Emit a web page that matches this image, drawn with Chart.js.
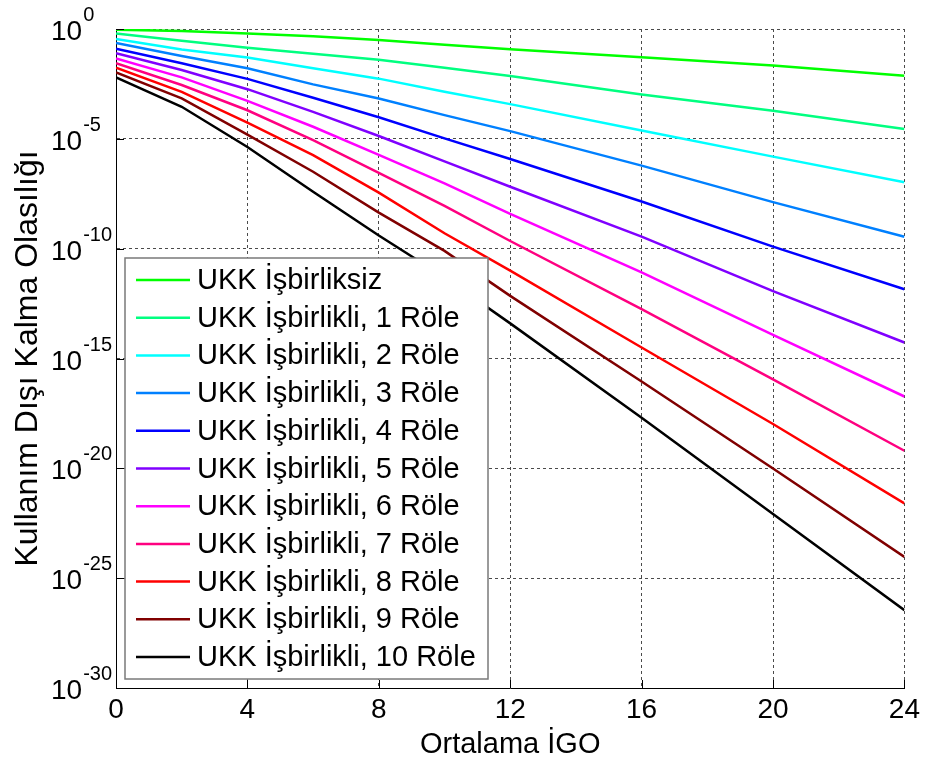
<!DOCTYPE html>
<html>
<head>
<meta charset="utf-8">
<script src="https://cdn.jsdelivr.net/npm/chart.js@4.4.1/dist/chart.umd.min.js"></script>
<style>
  html, body { margin: 0; padding: 0; background: #fff; }
  #wrap { width: 925px; height: 762px; }
</style>
</head>
<body>
<div id="wrap"><canvas id="chart" width="925" height="762"></canvas></div>
<script>
// average SNR (dB) at which each curve was sampled
const igo = [0, 2, 4, 6, 8, 10, 12, 16, 20, 24];

// outage probability, stored as log10 values
const nonCoop = [-0.03, -0.09, -0.20, -0.33, -0.50, -0.72, -0.92, -1.29, -1.66, -2.13];
const relay1  = [-0.20, -0.53, -0.85, -1.13, -1.40, -1.76, -2.14, -2.98, -3.72, -4.55];
const relay2  = [-0.46, -0.93, -1.30, -1.79, -2.26, -2.86, -3.42, -4.62, -5.81, -6.98];
const relay3  = [-0.64, -1.23, -1.79, -2.52, -3.16, -3.92, -4.65, -6.22, -7.88, -9.46];
const relay4  = [-0.90, -1.56, -2.27, -3.13, -4.02, -4.98, -5.92, -7.85, -9.91, -11.85];
const relay5  = [-1.10, -1.87, -2.74, -3.77, -4.87, -6.03, -7.18, -9.45, -11.93, -14.27];
const relay6  = [-1.34, -2.20, -3.27, -4.45, -5.73, -7.03, -8.42, -11.08, -13.92, -16.73];
const relay7  = [-1.56, -2.55, -3.70, -5.06, -6.55, -8.05, -9.65, -12.75, -15.95, -19.20];
const relay8  = [-1.76, -2.86, -4.26, -5.74, -7.45, -9.30, -11.00, -14.50, -17.98, -21.60];
const relay9  = [-1.98, -3.16, -4.81, -6.50, -8.36, -10.10, -12.15, -16.05, -20.01, -24.03];
const relay10 = [-2.20, -3.54, -5.37, -7.41, -9.40, -11.30, -13.40, -17.70, -22.08, -26.46];

const labels = [
  'UKK İşbirliksiz',
  'UKK İşbirlikli, 1 Röle',
  'UKK İşbirlikli, 2 Röle',
  'UKK İşbirlikli, 3 Röle',
  'UKK İşbirlikli, 4 Röle',
  'UKK İşbirlikli, 5 Röle',
  'UKK İşbirlikli, 6 Röle',
  'UKK İşbirlikli, 7 Röle',
  'UKK İşbirlikli, 8 Röle',
  'UKK İşbirlikli, 9 Röle',
  'UKK İşbirlikli, 10 Röle',
];
const colors = [
  '#00ff00', '#00ff80', '#00ffff', '#0080ff', '#0000ff', '#8000ff',
  '#ff00ff', '#ff0080', '#ff0000', '#800000', '#000000',
];
const series = [nonCoop, relay1, relay2, relay3, relay4, relay5,
                relay6, relay7, relay8, relay9, relay10];

const xTicks = [0, 4, 8, 12, 16, 20, 24];
const yExps = [0, -5, -10, -15, -20, -25, -30];

const FONT = '"Liberation Sans", Arial, sans-serif';

const datasets = series.map((s, i) => ({
  label: labels[i],
  data: igo.map((x, j) => ({ x: x, y: Math.pow(10, s[j]) })),
  borderColor: colors[i],
  backgroundColor: colors[i],
  borderWidth: 2.5,
  pointRadius: 0,
  tension: 0,
  fill: false,
  order: series.length - i,
}));

// y labels as 10 with a raised exponent, y title, inward ticks, boxed legend
const decorations = {
  id: 'decorations',
  afterDraw(chart) {
    const ctx = chart.ctx;
    const area = chart.chartArea;
    const xs = chart.scales.x;
    const ys = chart.scales.y;

    ctx.save();
    ctx.strokeStyle = '#000';
    ctx.lineWidth = 1;
    xTicks.forEach(v => {
      const px = Math.round(xs.getPixelForValue(v)) + 0.5;
      ctx.beginPath();
      ctx.moveTo(px, area.bottom);
      ctx.lineTo(px, area.bottom - 8);
      ctx.stroke();
    });
    yExps.forEach(e => {
      const py = Math.round(ys.getPixelForValue(Math.pow(10, e))) + 0.5;
      ctx.beginPath();
      ctx.moveTo(area.left, py);
      ctx.lineTo(area.left + 8, py);
      ctx.stroke();
    });

    ctx.fillStyle = '#000';
    ctx.textAlign = 'left';
    ctx.textBaseline = 'alphabetic';
    yExps.forEach(e => {
      const py = ys.getPixelForValue(Math.pow(10, e));
      ctx.font = '28px ' + FONT;
      ctx.fillText('10', 51, py + 11);
      const w = ctx.measureText('10').width;
      ctx.font = '20px ' + FONT;
      ctx.fillText(String(e), 51 + w + 1, py - 8);
    });

    // rotated y title
    ctx.save();
    ctx.translate(37, (area.top + area.bottom) / 2);
    ctx.rotate(-Math.PI / 2);
    ctx.font = '32px ' + FONT;
    ctx.textAlign = 'center';
    ctx.textBaseline = 'alphabetic';
    ctx.fillText('Kullanım Dışı Kalma Olasılığı', 0, 0);
    ctx.restore();

    // legend
    const box = { left: 125, top: 258, right: 488, bottom: 679 };
    ctx.fillStyle = '#fff';
    ctx.fillRect(box.left, box.top, box.right - box.left, box.bottom - box.top);
    ctx.strokeStyle = '#7a7a7a';
    ctx.lineWidth = 1.5;
    ctx.strokeRect(box.left, box.top, box.right - box.left, box.bottom - box.top);

    ctx.font = '29px ' + FONT;
    ctx.textAlign = 'left';
    ctx.textBaseline = 'middle';
    chart.data.datasets.forEach((ds, i) => {
      const y = 280 + i * 37.7;
      ctx.strokeStyle = ds.borderColor;
      ctx.lineWidth = 2.5;
      ctx.beginPath();
      ctx.moveTo(136, y);
      ctx.lineTo(190, y);
      ctx.stroke();
      ctx.fillStyle = '#000';
      ctx.fillText(ds.label, 197, y + 1);
    });
    ctx.restore();
  },
};

new Chart(document.getElementById('chart'), {
  type: 'line',
  data: { datasets: datasets },
  options: {
    responsive: false,
    animation: false,
    events: [],
    layout: { padding: { left: 0, top: 29, right: 16, bottom: 0 } },
    plugins: {
      legend: { display: false },
      tooltip: { enabled: false },
    },
    scales: {
      x: {
        type: 'linear',
        min: 0,
        max: 24,
        afterBuildTicks: scale => { scale.ticks = xTicks.map(v => ({ value: v })); },
        afterFit: scale => { scale.height = 74; },
        grid: { color: '#4a4a4a', lineWidth: 1, drawTicks: false },
        border: { display: true, color: '#000', width: 1, dash: [3, 3] },
        ticks: {
          color: '#000',
          font: { family: FONT, size: 28 },
          padding: 5,
          maxRotation: 0,
        },
        title: {
          display: true,
          text: 'Ortalama İGO',
          color: '#000',
          font: { family: FONT, size: 29 },
          padding: { top: 0, bottom: 0 },
        },
      },
      y: {
        type: 'logarithmic',
        min: 1e-30,
        max: 1,
        afterBuildTicks: scale => { scale.ticks = yExps.map(e => ({ value: Math.pow(10, e) })); },
        afterFit: scale => { scale.width = 116; },
        grid: { color: '#4a4a4a', lineWidth: 1, drawTicks: false },
        border: { display: true, color: '#000', width: 1, dash: [3, 3] },
        ticks: { display: false },
      },
    },
  },
  plugins: [decorations],
});
</script>
</body>
</html>
